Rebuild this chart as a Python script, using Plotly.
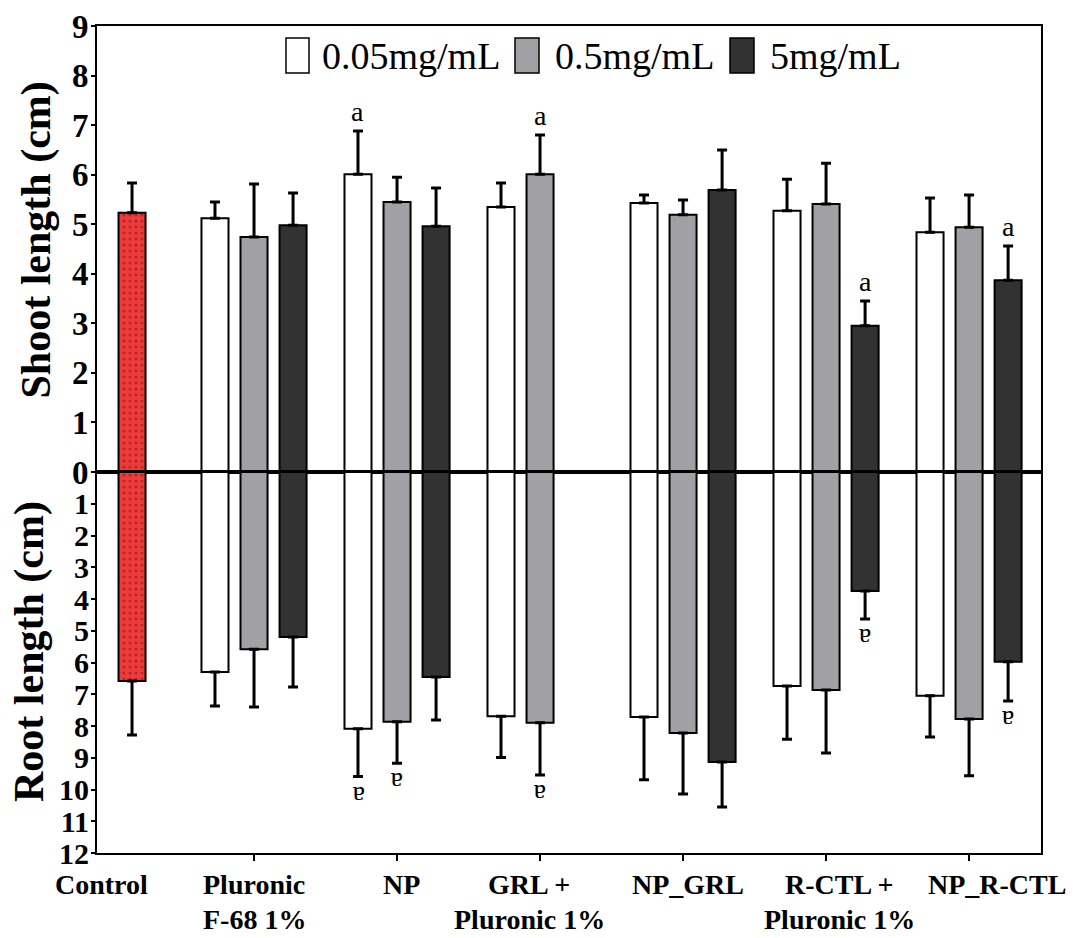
import plotly.graph_objects as go
from plotly.subplots import make_subplots

# ---- data -------------------------------------------------------------
groups = ["Pluronic<br>F-68 1%", "NP", "GRL +<br>Pluronic 1%", "NP_GRL",
          "R-CTL +<br>Pluronic 1%", "NP_R-CTL"]
concentrations = ["0.05mg/mL", "0.5mg/mL", "5mg/mL"]

control_shoot, control_shoot_err = 5.23, 0.60
control_root, control_root_err = 6.58, 1.70

shoot_005 = [5.12, 6.01, 5.35, 5.43, 5.27, 4.84]
shoot_005_err = [0.33, 0.87, 0.48, 0.16, 0.64, 0.69]
shoot_05 = [4.74, 5.45, 6.01, 5.19, 5.41, 4.94]
shoot_05_err = [1.07, 0.50, 0.79, 0.30, 0.82, 0.65]
shoot_5 = [4.98, 4.96, None, 5.69, 2.95, 3.87]
shoot_5_err = [0.65, 0.77, None, 0.81, 0.50, 0.69]

root_005 = [6.30, 8.09, 7.69, 7.72, 6.74, 7.05]
root_005_err = [1.07, 1.50, 1.30, 1.97, 1.68, 1.30]
root_05 = [5.58, 7.87, 7.90, 8.22, 6.87, 7.78]
root_05_err = [1.82, 1.30, 1.64, 1.92, 1.98, 1.79]
root_5 = [5.20, 6.46, None, 9.13, 3.75, 5.98]
root_5_err = [1.57, 1.35, None, 1.42, 0.88, 1.23]

# significance letters per bar
shoot_sig_005 = ["", "a", "", "", "", ""]
shoot_sig_05 = ["", "", "a", "", "", ""]
shoot_sig_5 = ["", "", "", "", "a", "a"]
root_sig_005 = ["", "a", "", "", "", ""]
root_sig_05 = ["", "a", "a", "", "", ""]
root_sig_5 = ["", "", "", "", "a", "a"]

shoot_ticks = list(range(0, 10))
root_ticks = list(range(1, 13))

# ---- styling ----------------------------------------------------------
SERIF = "Liberation Serif"
fills = ["#ffffff", "#a1a1a5", "#323232"]
offsets = [-0.273, 0.0, 0.273]
bar_w = 0.189
control_x = 0.147
control_label_x = -0.07
group_x = list(range(1, len(groups) + 1))
label_nudge = [0, 4, -11, 5, 13, 28]   # horizontal nudge of category labels (px)
label_rows = [885, 920]                # centre of each label line (px from top)

W, H = 1080, 938
ML, MR, MT, MB = 97, 39, 26, 85
PW, PH = W - ML - MR, H - MT - MB
zero_px = 472
split = (H - MB - zero_px) / PH


def px(xp):
    return (xp - ML) / PW


def py(yp):
    return (H - MB - yp) / PH


fig = make_subplots(rows=2, cols=1, shared_xaxes=True, vertical_spacing=0,
                    row_heights=[1 - split, split])

err_style = dict(type="data", symmetric=False, thickness=3, width=5,
                 color="black")

# control bar (dotted red)
ctrl_marker = dict(color="#f03a3a", line=dict(color="black", width=2),
                   pattern=dict(shape=".", fgcolor="#6e1c1c", size=6,
                                solidity=0.22, fillmode="overlay"))
fig.add_trace(go.Bar(x=[control_x], y=[control_shoot], width=bar_w,
                     marker=ctrl_marker, name="Control",
                     error_y=dict(array=[control_shoot_err], arrayminus=[0],
                                  **err_style)), row=1, col=1)
fig.add_trace(go.Bar(x=[control_x], y=[control_root], width=bar_w,
                     marker=ctrl_marker, name="Control",
                     error_y=dict(array=[control_root_err], arrayminus=[0],
                                  **err_style)), row=2, col=1)

series = [
    (shoot_005, shoot_005_err, root_005, root_005_err, shoot_sig_005, root_sig_005),
    (shoot_05, shoot_05_err, root_05, root_05_err, shoot_sig_05, root_sig_05),
    (shoot_5, shoot_5_err, root_5, root_5_err, shoot_sig_5, root_sig_5),
]

annotations = []
for k, (sv, se, rv, re, ss, rs) in enumerate(series):
    xs = [g + offsets[k] for g in group_x]
    mk = dict(color=fills[k], line=dict(color="black", width=2))
    fig.add_trace(go.Bar(x=xs, y=sv, width=bar_w, marker=mk,
                         name=concentrations[k],
                         error_y=dict(array=se, arrayminus=[0] * len(se),
                                      **err_style)), row=1, col=1)
    fig.add_trace(go.Bar(x=xs, y=rv, width=bar_w, marker=mk,
                         name=concentrations[k],
                         error_y=dict(array=re, arrayminus=[0] * len(re),
                                      **err_style)), row=2, col=1)
    for i in range(len(groups)):
        if ss[i]:
            annotations.append(dict(
                x=xs[i], y=sv[i] + se[i], xref="x", yref="y", text=ss[i],
                showarrow=False, xanchor="center", yanchor="bottom", yshift=2,
                font=dict(family=SERIF, size=28, color="black")))
        if rs[i]:
            annotations.append(dict(
                x=xs[i], y=rv[i] + re[i], xref="x2", yref="y2", text=rs[i],
                showarrow=False, xanchor="center", yanchor="top", yshift=-2,
                textangle=180,
                font=dict(family=SERIF, size=28, color="black")))

# category labels under the x axis, one annotation per text line
cat_font = dict(family=SERIF, size=28, color="black")
for xv, lab, dx in [(control_label_x, "Control", 0)] + list(
        zip(group_x, groups, label_nudge)):
    for row_px, line in zip(label_rows, lab.split("<br>")):
        annotations.append(dict(x=xv, y=py(row_px), xref="x2", yref="paper",
                                text="<b>%s</b>" % line, showarrow=False,
                                xanchor="center", yanchor="middle", xshift=dx,
                                font=cat_font))

# legend drawn as boxes + labels along the top of the plot
legend_items = [(286, 309, 320), (515, 539, 553), (730, 754, 768)]
shapes = []
for k, (x0, x1, xt) in enumerate(legend_items):
    shapes.append(dict(type="rect", xref="paper", yref="paper",
                       x0=px(x0), x1=px(x1), y0=py(73), y1=py(38),
                       fillcolor=fills[k], line=dict(color="black", width=1.5)))
    annotations.append(dict(x=px(xt), y=py(56), xref="paper", yref="paper",
                            text=concentrations[k], showarrow=False,
                            xanchor="left", yanchor="middle",
                            font=dict(family=SERIF, size=38, color="black")))

# axis titles (rotated, left of the axis)
annotations.append(dict(x=px(36), y=py(80), xref="paper", yref="paper",
                        text="<b>Shoot length (cm)</b>", textangle=-90,
                        showarrow=False, xanchor="center", yanchor="top",
                        font=dict(family=SERIF, size=42, color="black")))
annotations.append(dict(x=px(29), y=py(652), xref="paper", yref="paper",
                        text="<b>Root length (cm)</b>", textangle=-90,
                        showarrow=False, xanchor="center", yanchor="middle",
                        font=dict(family=SERIF, size=42, color="black")))

axis_common = dict(showline=True, linecolor="black", linewidth=2,
                   mirror=True, showgrid=False, zeroline=False,
                   automargin=False)

fig.update_xaxes(range=[-0.098, 6.503], **axis_common)
fig.update_xaxes(row=1, col=1, showticklabels=False, ticks="")
fig.update_xaxes(row=2, col=1, tickvals=group_x, showticklabels=False,
                 ticks="outside", ticklen=6, tickwidth=2, tickcolor="black")
fig.update_yaxes(row=1, col=1, range=[0, 9], tickvals=shoot_ticks,
                 ticks="outside", ticklen=4, tickwidth=2, tickcolor="black",
                 ticklabelstandoff=-4,
                 tickfont=dict(family=SERIF, size=33, color="black",
                               weight="bold"), **axis_common)
fig.update_yaxes(row=2, col=1, range=[12, 0], tickvals=root_ticks,
                 ticks="outside", ticklen=4, tickwidth=2, tickcolor="black",
                 ticklabelstandoff=-4,
                 tickfont=dict(family=SERIF, size=30, color="black",
                               weight="bold"), **axis_common)

fig.update_layout(
    width=W, height=H, barmode="overlay", showlegend=False,
    margin=dict(l=ML, r=MR, t=MT, b=MB, autoexpand=False),
    paper_bgcolor="white", plot_bgcolor="white",
    annotations=annotations, shapes=shapes,
)

fig.write_html("out.html")
